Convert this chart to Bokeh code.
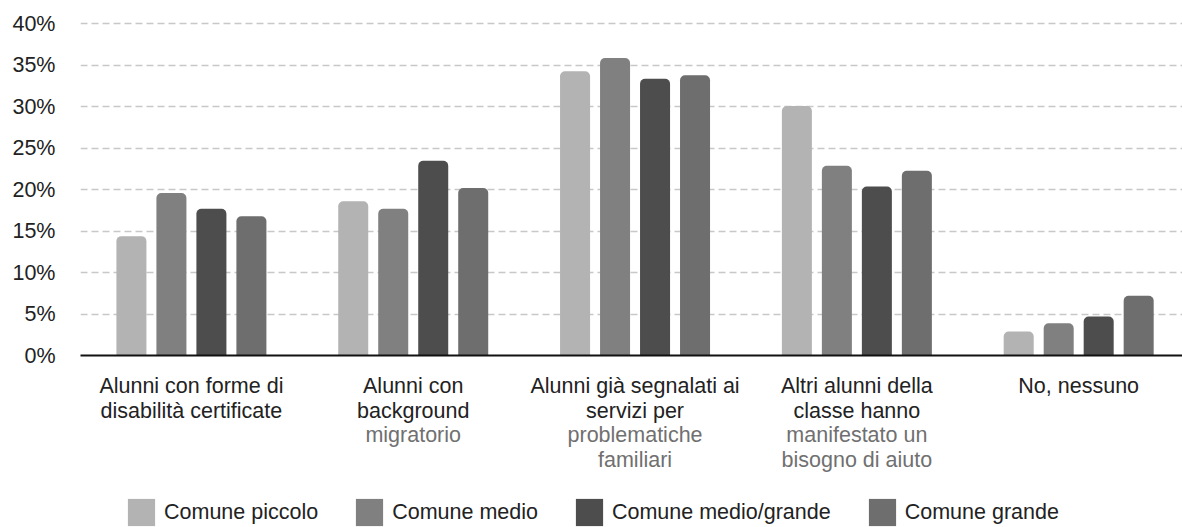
from bokeh.plotting import figure
from bokeh.layouts import column
from bokeh.models import (ColumnDataSource, FixedTicker, PrintfTickFormatter,
                          Legend, LegendItem, LinearAxis, Range1d)
from bokeh.transform import dodge
from bokeh.embed import file_html
from bokeh.resources import INLINE

# Category labels: first two lines in black, the remaining lines in grey
cat_main = [
    "Alunni con forme di\ndisabilità certificate",
    "Alunni con\nbackground",
    "Alunni già segnalati ai\nservizi per",
    "Altri alunni della\nclasse hanno",
    "No, nessuno",
]
cat_extra = [
    "",
    "migratorio",
    "problematiche\nfamiliari",
    "manifestato un\nbisogno di aiuto",
    "",
]

series = ["Comune piccolo", "Comune medio", "Comune medio/grande", "Comune grande"]

# Percentages per group of pupils
piccolo = [14.4, 18.6, 34.3, 30.1, 2.9]
medio = [19.6, 17.7, 35.9, 22.9, 3.9]
medio_grande = [17.7, 23.5, 33.4, 20.4, 4.7]
grande = [16.8, 20.2, 33.8, 22.3, 7.2]

y_ticks = [0, 5, 10, 15, 20, 25, 30, 35, 40]

colors = ["#b3b3b3", "#808080", "#4d4d4d", "#6e6e6e"]
FONT = "Liberation Sans"
FS = "21.5px"
LH = 1.05

idx = list(range(len(cat_main)))
source = ColumnDataSource(data=dict(
    x=idx, piccolo=piccolo, medio=medio, medio_grande=medio_grande, grande=grande,
))

p = figure(width=1182, height=492, output_backend="svg", toolbar_location=None,
           x_range=Range1d(-0.5, 4.468), y_range=Range1d(0, 40.3),
           min_border_left=80, min_border_right=0, min_border_top=21,
           min_border_bottom=137)
p.outline_line_color = None
p.background_fill_color = "white"
p.border_fill_color = "white"

pitch = 0.1803
bar_w = 0.1353
offsets = [-1.5 * pitch, -0.5 * pitch, 0.5 * pitch, 1.5 * pitch]
cols = ["piccolo", "medio", "medio_grande", "grande"]

for col, off, color in zip(cols, offsets, colors):
    p.vbar(x=dodge("x", off, range=p.x_range), top=col, width=bar_w,
           bottom=0, source=source, fill_color=color, line_color=None,
           border_radius=(5, 5, 0, 0))

# Y axis
yax = p.yaxis[0]
yax.ticker = FixedTicker(ticks=y_ticks)
yax.formatter = PrintfTickFormatter(format="%d%%")
yax.axis_line_color = None
yax.major_tick_line_color = None
yax.minor_tick_line_color = None
yax.major_tick_out = 0
yax.major_label_standoff = 25
yax.major_label_text_font = FONT
yax.major_label_text_font_size = FS
yax.major_label_text_color = "#222222"

# X axis with the first lines of each category
xax = p.xaxis[0]
xax.ticker = FixedTicker(ticks=idx)
xax.major_label_overrides = {i: t for i, t in zip(idx, cat_main)}
xax.axis_line_color = "#111111"
xax.axis_line_width = 2
xax.major_tick_line_color = None
xax.minor_tick_line_color = None
xax.major_tick_out = 0
xax.major_label_standoff = 18
xax.major_label_text_font = FONT
xax.major_label_text_font_size = FS
xax.major_label_text_color = "#222222"
xax.major_label_text_line_height = LH

# Second row of category text, in grey
xax2 = LinearAxis(ticker=FixedTicker(ticks=idx),
                  major_label_overrides={i: t for i, t in zip(idx, cat_extra)})
xax2.axis_line_color = None
xax2.major_tick_line_color = None
xax2.minor_tick_line_color = None
xax2.major_tick_out = 0
xax2.major_label_standoff = -3
xax2.major_label_text_font = FONT
xax2.major_label_text_font_size = FS
xax2.major_label_text_color = "#707070"
xax2.major_label_text_line_height = LH
p.add_layout(xax2, "below")

p.xgrid.grid_line_color = None
p.ygrid.grid_line_color = "#c8c8c8"
p.ygrid.grid_line_dash = "7 4"
p.ygrid.grid_line_width = 1.5
p.ygrid.ticker = FixedTicker(ticks=y_ticks[1:])

# Legend strip below the chart; its swatch renderers have zero height
leg = figure(width=1182, height=35, output_backend="svg", toolbar_location=None,
             x_axis_type=None, y_axis_type=None,
             min_border_left=0, min_border_right=0, min_border_top=0,
             min_border_bottom=0)
leg.outline_line_color = None
leg.xgrid.visible = False
leg.ygrid.visible = False
swatches = []
for color in colors:
    swatches.append(leg.vbar(x=[0], top=[0], bottom=[0], width=0,
                             fill_color=color, line_color=None))

legend = Legend(
    items=[LegendItem(label=s, renderers=[r]) for s, r in zip(series, swatches)],
    orientation="horizontal", location=(44, -2),
    glyph_width=34, glyph_height=34, label_standoff=6, spacing=34,
    padding=0, margin=0, border_line_color=None, background_fill_alpha=0,
    label_text_font=FONT, label_text_font_size=FS, label_text_color="#222222",
    label_height=28,
)
leg.add_layout(legend)

open("out.html", "w").write(file_html(column(p, leg, spacing=0), INLINE))
